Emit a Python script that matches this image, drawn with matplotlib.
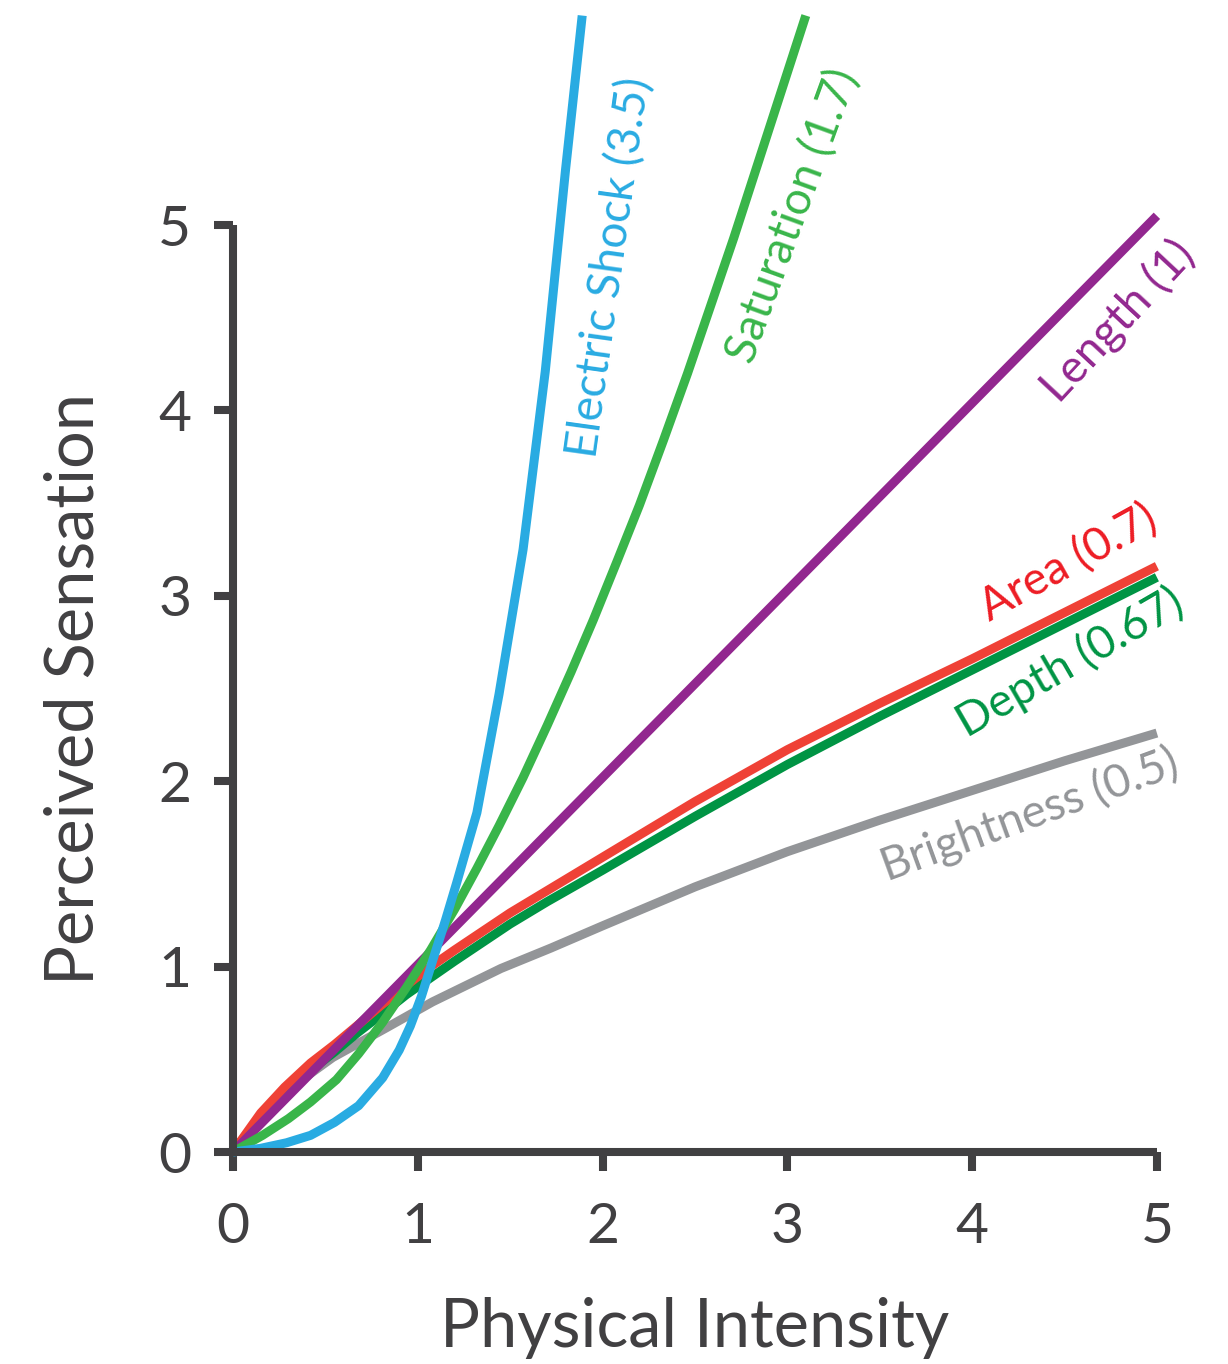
import matplotlib
matplotlib.use("Agg")
import matplotlib.pyplot as plt

# valeurs (Stevens power law)
shock_x = [0, 0.15, 0.29, 0.42, 0.55, 0.68, 0.81, 0.90, 0.96, 1.02, 1.08, 1.15, 1.21, 1.32, 1.44, 1.57, 1.69, 1.80, 1.89]
shock_y = [0, 0.02, 0.05, 0.09, 0.16, 0.25, 0.40, 0.55, 0.68, 0.84, 1.03, 1.25, 1.45, 1.83, 2.47, 3.25, 4.21, 5.30, 6.13]

sat_x = [0, 0.16, 0.30, 0.42, 0.56, 0.68, 0.81, 0.94, 1.07, 1.20, 1.32, 1.44, 1.57, 1.70, 1.83, 1.95,
         2.08, 2.20, 2.33, 2.46, 2.58, 2.71, 2.84, 2.97, 3.10]
sat_y = [0, 0.09, 0.18, 0.27, 0.39, 0.53, 0.70, 0.89, 1.09, 1.31, 1.53, 1.76, 2.02, 2.30, 2.59, 2.87,
         3.19, 3.49, 3.84, 4.20, 4.55, 4.93, 5.33, 5.73, 6.13]

length_x = [0, 1, 2, 3, 4, 5]
length_y = [0, 1.01, 2.02, 3.03, 4.04, 5.05]

area_x = [0, 0.15, 0.28, 0.42, 0.55, 0.67, 0.80, 0.94, 1.07, 1.20, 1.35, 1.50, 1.70,
          2.0, 2.5, 3.0, 3.5, 4.0, 4.5, 5.0]
area_y = [0, 0.21, 0.35, 0.48, 0.58, 0.68, 0.79, 0.90, 1.00, 1.09, 1.19, 1.29, 1.41,
          1.59, 1.89, 2.17, 2.42, 2.66, 2.91, 3.16]

depth_x = [0, 0.15, 0.28, 0.42, 0.55, 0.67, 0.80, 0.94, 1.07, 1.20, 1.35, 1.50, 1.70,
           2.0, 2.5, 3.0, 3.5, 4.0, 4.5, 5.0]
depth_y = [0, 0.19, 0.32, 0.44, 0.54, 0.64, 0.74, 0.85, 0.94, 1.03, 1.13, 1.23, 1.35,
           1.52, 1.81, 2.09, 2.35, 2.60, 2.85, 3.10]

bright_x = [0, 0.16, 0.29, 0.54, 0.83, 1.08, 1.45, 1.72, 2.0, 2.5, 3.0, 3.5, 4.0, 4.5, 5.0]
bright_y = [0, 0.21, 0.33, 0.51, 0.67, 0.81, 0.99, 1.10, 1.22, 1.43, 1.62, 1.79, 1.95, 2.11, 2.26]

ticks = [0, 1, 2, 3, 4, 5]

axe_col = '#414042'
plt.rcParams['font.family'] = ['Lato', 'DejaVu Sans']

fig = plt.figure(figsize=(12.28, 13.64), dpi=100)
ax = fig.add_axes([0.1897, 0.1554, 0.7524, 0.6796])

lw = 6.5
ax.plot(bright_x, bright_y, color='#939598', lw=lw, clip_on=False, solid_capstyle='butt')
ax.plot(depth_x, depth_y, color='#009444', lw=lw, clip_on=False, solid_capstyle='butt')
ax.plot(area_x, area_y, color='#EF4136', lw=lw, clip_on=False, solid_capstyle='butt')
ax.plot(length_x, length_y, color='#92278F', lw=lw, clip_on=False, solid_capstyle='butt')
ax.plot(sat_x, sat_y, color='#39B54A', lw=lw, clip_on=False, solid_capstyle='butt')
ax.plot(shock_x, shock_y, color='#29ABE2', lw=lw, clip_on=False, solid_capstyle='butt')

# étiquettes des courbes
fs = 33
kw = dict(ha='center', va='center', rotation_mode='anchor', fontsize=fs)
ax.text(2.04, 4.77, 'Electric Shock (3.5)', color='#29ABE2', rotation=82, **kw)
ax.text(3.03, 5.05, 'Saturation (1.7)', color='#39B54A', rotation=70, **kw)
ax.text(4.79, 4.48, 'Length (1)', color='#92278F', rotation=47, **kw)
ax.text(4.52, 3.18, 'Area (0.7)', color='#ED1C24', rotation=29, **kw)
ax.text(4.53, 2.64, 'Depth (0.67)', color='#009444', rotation=30, **kw)
ax.text(4.31, 1.82, 'Brightness (0.5)', color='#939598', rotation=20, **kw)

ax.set_xlim(0, 5)
ax.set_ylim(0, 5)
ax.set_xticks(ticks)
ax.set_yticks(ticks)
ax.set_xticklabels([str(t) for t in ticks])
ax.set_yticklabels([str(t) for t in ticks])

for s in ['top', 'right']:
    ax.spines[s].set_visible(False)
for s in ['left', 'bottom']:
    ax.spines[s].set_linewidth(5.8)
    ax.spines[s].set_color(axe_col)
    ax.spines[s].set_capstyle('butt')

ax.tick_params(axis='both', length=14, width=5.8, color=axe_col, labelcolor=axe_col, labelsize=41)
ax.tick_params(axis='x', pad=22)
ax.tick_params(axis='y', pad=16)

ax.set_xlabel('Physical Intensity', fontsize=48, color=axe_col, labelpad=32)
ax.set_ylabel('Perceived Sensation', fontsize=48, color=axe_col, labelpad=38)

plt.savefig('out.png', dpi=100)
